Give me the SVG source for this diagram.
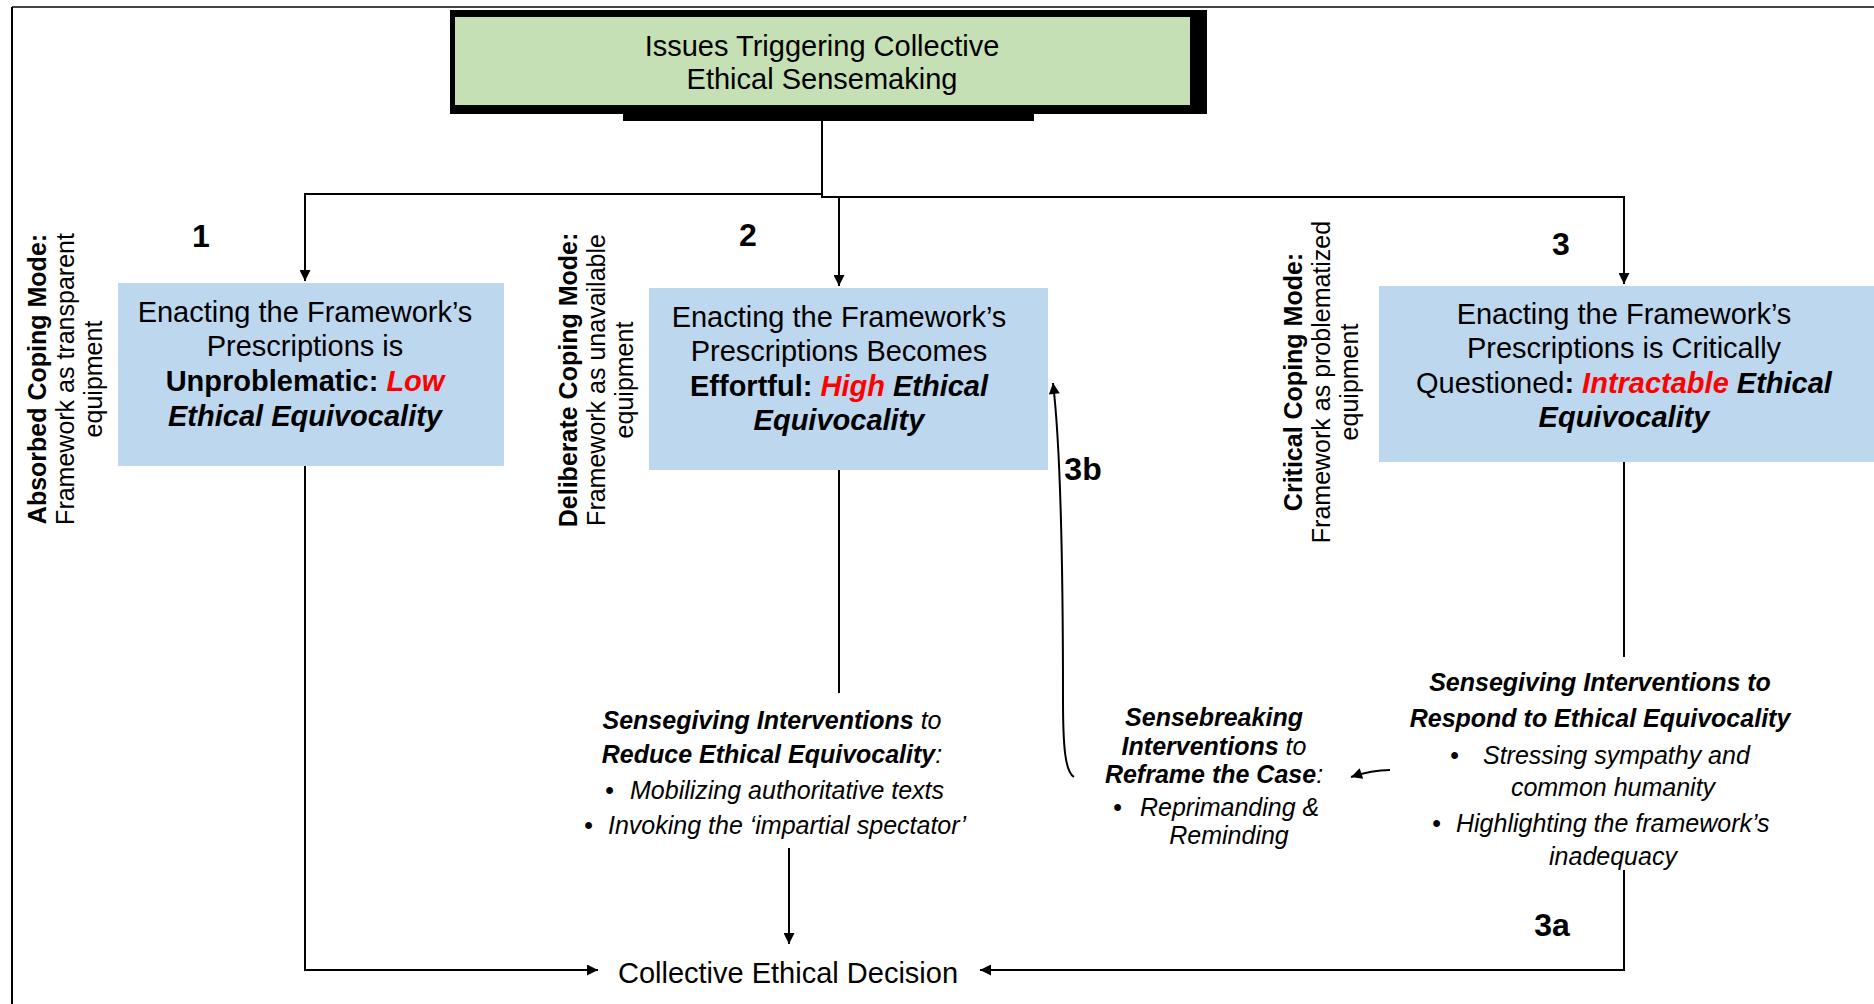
<svg xmlns="http://www.w3.org/2000/svg" width="1874" height="1004" viewBox="0 0 1874 1004">
<defs>
<marker id="ah" viewBox="0 0 10 10" refX="10" refY="5" markerWidth="12" markerHeight="11" markerUnits="userSpaceOnUse" orient="auto"><path d="M0,0 L10,5 L0,10 z" fill="#000"/></marker>
<style>
text{font-family:"Liberation Sans",Arial,sans-serif;fill:#000}
.box{fill:#BDD7EE}
.bt{font-size:29px}
.b{font-weight:bold}
.i{font-style:italic}
.r{fill:#FF0000}
.st{font-size:25px;font-style:italic}
.vl{font-size:25px}
.num{font-size:32px;font-weight:bold}
.ln{fill:none;stroke:#000;stroke-width:2}
</style>
</defs>
<rect width="1874" height="1004" fill="#fff"/>
<g id="frame">
<line x1="12" y1="7" x2="1874" y2="7" stroke="#444" stroke-width="2"/>
<line x1="12" y1="7" x2="12" y2="1004" stroke="#000" stroke-width="2"/>
</g>
<g id="connectors">
<polyline class="ln" points="822,121 822,194 305,194 305,281" marker-end="url(#ah)"/>
<polyline class="ln" points="822,194 822,197 1624,197 1624,284" marker-end="url(#ah)"/>
<line class="ln" x1="839" y1="197" x2="839" y2="286" marker-end="url(#ah)"/>
<polyline class="ln" points="305,466 305,970 598,970" stroke-width="2.5" marker-end="url(#ah)"/>
<line class="ln" x1="839" y1="470" x2="839" y2="693"/>
<line class="ln" x1="789" y1="848" x2="789" y2="944" marker-end="url(#ah)"/>
<line class="ln" x1="1624" y1="462" x2="1624" y2="657"/>
<polyline class="ln" points="1624,870 1624,970 980,970" stroke-width="3.5" marker-end="url(#ah)"/>
<path class="ln" d="M1390,770 C1376,770 1366,772 1351,777" marker-end="url(#ah)"/>
<path class="ln" d="M1074,777 C1065,772 1063,745 1063,700 C1063,560 1061,450 1053,383" marker-end="url(#ah)"/>
</g>
<g id="top">
<rect x="450" y="10" width="757" height="104" fill="#000"/>
<rect x="623" y="110" width="411" height="11" fill="#000"/>
<rect x="455" y="17" width="735" height="88" fill="#C5E0B4"/>
<text x="822" y="56" text-anchor="middle" font-size="29">Issues Triggering Collective</text>
<text x="822" y="89" text-anchor="middle" font-size="29">Ethical Sensemaking</text>
</g>
<g id="box1">
<rect class="box" x="118" y="283" width="386" height="183"/>
<text class="bt" x="305" y="322" text-anchor="middle">Enacting the Framework’s</text>
<text class="bt" x="305" y="356" text-anchor="middle">Prescriptions is</text>
<text class="bt" x="305" y="391" text-anchor="middle"><tspan class="b">Unproblematic: </tspan><tspan class="b i r">Low</tspan></text>
<text class="bt b i" x="305" y="426" text-anchor="middle">Ethical Equivocality</text>
</g>
<g id="box2">
<rect class="box" x="649" y="288" width="399" height="182"/>
<text class="bt" x="839" y="327" text-anchor="middle">Enacting the Framework’s</text>
<text class="bt" x="839" y="361" text-anchor="middle">Prescriptions Becomes</text>
<text class="bt" x="839" y="396" text-anchor="middle"><tspan class="b">Effortful: </tspan><tspan class="b i r">High</tspan><tspan class="b i"> Ethical</tspan></text>
<text class="bt b i" x="839" y="430" text-anchor="middle">Equivocality</text>
</g>
<g id="box3">
<rect class="box" x="1379" y="286" width="495" height="176"/>
<text class="bt" x="1624" y="324" text-anchor="middle">Enacting the Framework’s</text>
<text class="bt" x="1624" y="358" text-anchor="middle">Prescriptions is Critically</text>
<text class="bt" x="1624" y="393" text-anchor="middle"><tspan>Questioned</tspan><tspan class="b">: </tspan><tspan class="b i r">Intractable</tspan><tspan class="b i"> Ethical</tspan></text>
<text class="bt b i" x="1624" y="427" text-anchor="middle">Equivocality</text>
</g>
<g id="mode1">
<text class="vl" transform="translate(0,379) rotate(-90)" text-anchor="middle"><tspan class="b" x="0" y="46">Absorbed Coping Mode:</tspan><tspan x="0" y="74">Framework as transparent</tspan><tspan x="0" y="102">equipment</tspan></text>
</g>
<g id="mode2">
<text class="vl" transform="translate(0,380) rotate(-90)" text-anchor="middle"><tspan class="b" x="0" y="577">Deliberate Coping Mode:</tspan><tspan x="0" y="605">Framework as unavailable</tspan><tspan x="0" y="633">equipment</tspan></text>
</g>
<g id="mode3">
<text class="vl" transform="translate(0,382) rotate(-90)" text-anchor="middle"><tspan class="b" x="0" y="1302">Critical Coping Mode:</tspan><tspan x="0" y="1330">Framework as problematized</tspan><tspan x="0" y="1358">equipment</tspan></text>
</g>
<g id="labels">
<text class="num" x="201" y="247" text-anchor="middle">1</text>
<text class="num" x="748" y="246" text-anchor="middle">2</text>
<text class="num" x="1561" y="255" text-anchor="middle">3</text>
<text class="num" x="1083" y="480" text-anchor="middle">3b</text>
<text class="num" x="1552" y="936" text-anchor="middle">3a</text>
</g>
<g id="sensegiving1">
<text class="st" x="772" y="729" text-anchor="middle"><tspan class="b">Sensegiving Interventions</tspan> to</text>
<text class="st" x="772" y="763" text-anchor="middle"><tspan class="b">Reduce Ethical Equivocality</tspan>:</text>
<text class="st" x="605" y="799">•</text>
<text class="st" x="630" y="799">Mobilizing authoritative texts</text>
<text class="st" x="584" y="834">•</text>
<text class="st" x="608" y="834">Invoking the ‘impartial spectator’</text>
</g>
<g id="sensebreaking">
<text class="st b" x="1214" y="726" text-anchor="middle">Sensebreaking</text>
<text class="st" x="1214" y="755" text-anchor="middle"><tspan class="b">Interventions</tspan> to</text>
<text class="st" x="1214" y="783" text-anchor="middle"><tspan class="b">Reframe the Case</tspan>:</text>
<text class="st" x="1113" y="816">•</text>
<text class="st" x="1140" y="816">Reprimanding &amp;</text>
<text class="st" x="1229" y="844" text-anchor="middle">Reminding</text>
</g>
<g id="sensegiving2">
<text class="st b" x="1600" y="691" text-anchor="middle">Sensegiving Interventions to</text>
<text class="st b" x="1600" y="727" text-anchor="middle">Respond to Ethical Equivocality</text>
<text class="st" x="1450" y="764">•</text>
<text class="st" x="1483" y="764">Stressing sympathy and</text>
<text class="st" x="1613" y="796" text-anchor="middle">common humanity</text>
<text class="st" x="1432" y="832">•</text>
<text class="st" x="1456" y="832">Highlighting the framework’s</text>
<text class="st" x="1613" y="865" text-anchor="middle">inadequacy</text>
</g>
<g id="decision">
<text x="788" y="983" text-anchor="middle" font-size="29">Collective Ethical Decision</text>
</g>
</svg>
